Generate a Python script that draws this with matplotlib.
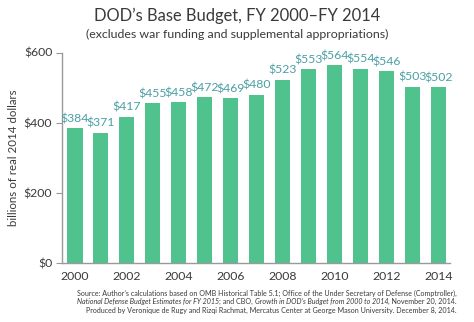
import matplotlib
matplotlib.use("Agg")
import matplotlib.pyplot as plt

years = list(range(2000, 2015))
budget = [384, 371, 417, 455, 458, 472, 469, 480, 523, 553, 564, 554, 546, 503, 502]
tick_years = [2000, 2002, 2004, 2006, 2008, 2010, 2012, 2014]
y_ticks = [0, 200, 400, 600]

bar_color = "#4fc28e"
label_color = "#4a9fa4"
text_color = "#3a3a3a"
axis_color = "#9a9a9a"

plt.rcParams["font.family"] = ["Lato", "DejaVu Sans"]

fig = plt.figure(figsize=(4.74, 3.22), dpi=100)
ax = fig.add_axes([62 / 474, 1 - 263 / 322, 388 / 474, 210.5 / 322])

x = list(range(len(years)))
ax.bar(x, budget, width=0.58, color=bar_color, zorder=2)
for xi, v in zip(x, budget):
    ax.text(xi, v + 11, f"${v}", ha="center", va="bottom", fontsize=8.8,
            color=label_color)

ax.set_xlim(-0.5, 14.45)
ax.set_ylim(0, 600)
ax.set_xticks([years.index(y) for y in tick_years])
ax.set_xticklabels([str(y) for y in tick_years], fontsize=8.8,
                   color=text_color)
ax.set_yticks(y_ticks)
ax.set_yticklabels([f"${t}" for t in y_ticks], fontsize=8.8,
                   color=text_color)
ax.tick_params(axis="x", length=0, pad=6)
ax.tick_params(axis="y", length=4, width=0.8, color=axis_color, pad=3)

for s in ["top", "right"]:
    ax.spines[s].set_visible(False)
for s in ["left", "bottom"]:
    ax.spines[s].set_color(axis_color)
    ax.spines[s].set_linewidth(1.0)

ax.set_ylabel("billions of real 2014 dollars", fontsize=8.3, color=text_color)
ax.yaxis.set_label_coords(-0.112, 0.5)

fig.text(0.5, 1 - 16 / 322, "DOD\u2019s Base Budget, FY 2000\u2013FY 2014",
         ha="center", va="center", fontsize=11.9, color=text_color)
fig.text(0.5, 1 - 34 / 322,
         "(excludes war funding and supplemental appropriations)",
         ha="center", va="center", fontsize=8.9, color=text_color)

src_x = 457 / 474
fs = 5.15
fig.text(src_x, 1 - 293 / 322,
         "Source: Author\u2019s calculations based on OMB Historical Table 5.1; "
         "Office of the Under Secretary of Defense (Comptroller),",
         ha="right", va="center", fontsize=fs, color=text_color)
line2 = [("National Defense Budget Estimates for FY 2015", "italic"),
         ("; and CBO, ", "normal"),
         ("Growth in DOD\u2019s Budget from 2000 to 2014", "italic"),
         (", November 20, 2014.", "normal")]
# right-aligned mixed-style line: draw pieces from the right edge leftward
fig.canvas.draw()
renderer = fig.canvas.get_renderer()
xr = src_x
for txt, style in reversed(line2):
    t = fig.text(xr, 1 - 301.5 / 322, txt, ha="right", va="center",
                 fontsize=fs, style=style, color=text_color)
    bb = t.get_window_extent(renderer=renderer)
    xr -= bb.width / fig.bbox.width
fig.text(src_x, 1 - 310 / 322,
         "Produced by Veronique de Rugy and Rizqi Rachmat, Mercatus Center at "
         "George Mason University. December 8, 2014.",
         ha="right", va="center", fontsize=fs, color=text_color)

fig.savefig("out.png", dpi=100)
